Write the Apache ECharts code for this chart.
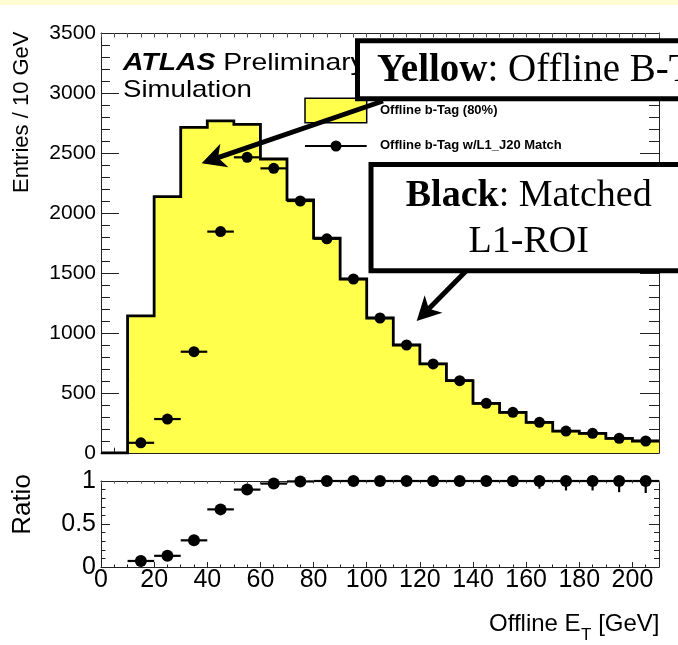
<!DOCTYPE html>
<html>
<head>
<meta charset="utf-8">
<script src="https://cdn.jsdelivr.net/npm/echarts@6/dist/echarts.min.js"></script>
<style>
  html, body { margin: 0; padding: 0; background: #ffffff; }
  #chart { width: 678px; height: 645px; }
</style>
</head>
<body>
<div id="chart"></div>
<script>
// Offline jet E_T in 10 GeV bins (lower bin edges)
const binLow = [0, 10, 20, 30, 40, 50, 60, 70, 80, 90, 100, 110, 120, 130, 140, 150, 160, 170, 180, 190, 200];
const binWidth = 10;
// Offline b-tagged jets (80% working point), entries per bin
const offlineBTag = [0, 1142, 2136, 2714, 2767, 2739, 2450, 2110, 1790, 1450, 1125, 900, 742, 603, 414, 339, 256, 183, 164, 122, 100];
// Offline b-tagged jets matched to an L1_J20 ROI
const matchedL1J20 = [null, 85, 283, 844, 1845, 2464, 2372, 2100, 1785, 1450, 1125, 900, 742, 603, 414, 339, 256, 183, 164, 122, 100];
// Matched / offline ratio and its uncertainty
const ratio = [null, 0.07, 0.13, 0.31, 0.67, 0.90, 0.97, 0.995, 1.0, 1.0, 1.0, 1.0, 1.0, 1.0, 1.0, 1.0, 1.0, 1.0, 1.0, 1.0, 1.0];
const ratioErr = [null, 0.02, 0.02, 0.02, 0.02, 0.02, 0.02, 0.03, 0.03, 0.04, 0.04, 0.05, 0.05, 0.06, 0.06, 0.07, 0.09, 0.11, 0.11, 0.13, 0.14];
// Axis tick labels
const xTicks = [0, 20, 40, 60, 80, 100, 120, 140, 160, 180, 200];
const yTicks = [0, 500, 1000, 1500, 2000, 2500, 3000, 3500];
const ratioTicks = [0, 0.5, 1];

const X_MAX = 210;
const RATIO_MAX = 1;
const SANS = '"Liberation Sans", Arial, Helvetica, sans-serif';
const SERIF = '"Liberation Serif", "Times New Roman", serif';
const AX = '#222222';
const YELLOW = '#FFFF4C';

const chart = echarts.init(document.getElementById('chart'), null, { renderer: 'canvas' });

// step-histogram outline: one point per lower edge plus the closing upper edge
const histData = binLow.map((x, i) => [x, offlineBTag[i]]);
histData.push([binLow[binLow.length - 1] + binWidth, offlineBTag[offlineBTag.length - 1]]);

// points with horizontal (bin width) and vertical error bars: [xc, y, xlo, xhi, elo, ehi]
const matchedPts = [];
const ratioPts = [];
binLow.forEach((x, i) => {
  if (matchedL1J20[i] != null) matchedPts.push([x + binWidth / 2, matchedL1J20[i], x, x + binWidth, 0, 0]);
  if (ratio[i] != null) ratioPts.push([x + binWidth / 2, ratio[i], x, x + binWidth, ratioErr[i], ratioErr[i]]);
});

function errorBars(lineWidth, yClamp) {
  return function (params, api) {
    const xc = api.value(0), y = api.value(1), xlo = api.value(2), xhi = api.value(3);
    const elo = api.value(4), ehi = api.value(5);
    const a = api.coord([xlo, y]), b = api.coord([xhi, y]);
    const children = [{ type: 'line', shape: { x1: a[0], y1: a[1], x2: b[0], y2: b[1] },
      style: { stroke: '#000', lineWidth: lineWidth } }];
    if (elo || ehi) {
      const top = api.coord([xc, Math.min(y + ehi, yClamp)]);
      const bot = api.coord([xc, y - elo]);
      children.push({ type: 'line', shape: { x1: top[0], y1: top[1], x2: bot[0], y2: bot[1] },
        style: { stroke: '#000', lineWidth: lineWidth } });
    }
    return { type: 'group', children: children };
  };
}

function valueAxis(extra) {
  return Object.assign({
    type: 'value',
    splitLine: { show: false },
    axisLine: { show: true, onZero: false, lineStyle: { color: AX, width: 1 } },
    axisTick: { show: true, inside: true, lineStyle: { color: AX, width: 1 } },
    axisLabel: { show: false },
    minorTick: { show: false },
    minorSplitLine: { show: false }
  }, extra);
}

// thick annotation arrow with a notched head
function arrow(tail, tip, headLen, halfW, lw, z) {
  const dx = tip[0] - tail[0], dy = tip[1] - tail[1];
  const L = Math.hypot(dx, dy), ux = dx / L, uy = dy / L, nx = -uy, ny = ux;
  const base = [tip[0] - ux * headLen, tip[1] - uy * headLen];
  const notch = [tip[0] - ux * headLen * 0.72, tip[1] - uy * headLen * 0.72];
  return [
    { type: 'line', z: z, silent: true,
      shape: { x1: tail[0], y1: tail[1], x2: notch[0], y2: notch[1] },
      style: { stroke: '#000', lineWidth: lw } },
    { type: 'polygon', z: z, silent: true,
      shape: { points: [tip, [base[0] + nx * halfW, base[1] + ny * halfW], notch, [base[0] - nx * halfW, base[1] - ny * halfW]] },
      style: { fill: '#000' } }
  ];
}

// x-axis title with subscript T
const mctx = document.createElement('canvas').getContext('2d');
function textWidth(str, size) { mctx.font = size + 'px ' + SANS; return mctx.measureText(str).width; }
const tA = 'Offline E', tB = 'T', tC = ' [GeV]';
const wA = textWidth(tA, 24), wB = textWidth(tB, 17), wC = textWidth(tC, 24);
const titleRight = 659;
const titleX = titleRight - (wA + wB + wC);

const option = {
  backgroundColor: '#ffffff',
  animation: false,
  grid: [
    { left: 101, top: 33, width: 558, height: 420 },
    { left: 101, top: 481, width: 558, height: 86 }
  ],
  xAxis: [
    valueAxis({ gridIndex: 0, position: 'bottom', min: 0, max: X_MAX, interval: 20,
      axisTick: { show: true, inside: true, length: 10.5, lineStyle: { color: AX } } }),
    valueAxis({ gridIndex: 0, position: 'bottom', min: 0, max: X_MAX, interval: 5,
      axisLine: { show: false }, axisTick: { show: true, inside: true, length: 5.3, lineStyle: { color: AX } } }),
    valueAxis({ gridIndex: 0, position: 'top', min: 0, max: X_MAX, interval: 5,
      axisTick: { show: true, inside: true, length: 4.5, lineStyle: { color: '#555' } } }),
    valueAxis({ gridIndex: 1, position: 'bottom', min: 0, max: X_MAX, interval: 20,
      axisTick: { show: true, inside: true, length: 5, lineStyle: { color: AX } },
      axisLabel: { show: true, margin: 1, color: '#000', fontFamily: SANS, fontSize: 25,
        formatter: v => (xTicks.indexOf(v) >= 0 ? String(v) : '') } }),
    valueAxis({ gridIndex: 1, position: 'bottom', min: 0, max: X_MAX, interval: 5,
      axisLine: { show: false }, axisTick: { show: true, inside: true, length: 2.5, lineStyle: { color: AX } } }),
    valueAxis({ gridIndex: 1, position: 'top', min: 0, max: X_MAX, interval: 5,
      axisTick: { show: true, inside: true, length: 2.5, lineStyle: { color: '#555' } } })
  ],
  yAxis: [
    valueAxis({ gridIndex: 0, position: 'left', min: yTicks[0], max: yTicks[yTicks.length - 1], interval: 500,
      axisTick: { show: true, inside: true, length: 18, lineStyle: { color: AX } },
      minorTick: { show: true, splitNumber: 5, length: 9, lineStyle: { color: AX } },
      axisLabel: { show: true, margin: 5, color: '#000', fontFamily: SANS, fontSize: 21,
        formatter: v => (yTicks.indexOf(v) >= 0 ? String(v) : '') } }),
    valueAxis({ gridIndex: 0, position: 'right', min: yTicks[0], max: yTicks[yTicks.length - 1], interval: 500,
      axisTick: { show: true, inside: true, length: 19, lineStyle: { color: AX } },
      minorTick: { show: true, splitNumber: 5, length: 10, lineStyle: { color: AX } } }),
    valueAxis({ gridIndex: 1, position: 'left', min: 0, max: RATIO_MAX, interval: 0.5,
      axisTick: { show: true, inside: true, length: 9, lineStyle: { color: AX } },
      minorTick: { show: true, splitNumber: 5, length: 4.5, lineStyle: { color: AX } },
      axisLabel: { show: true, margin: 5, color: '#000', fontFamily: SANS, fontSize: 25,
        formatter: v => (ratioTicks.indexOf(v) >= 0 ? String(v) : '') } }),
    valueAxis({ gridIndex: 1, position: 'right', min: 0, max: RATIO_MAX, interval: 0.5,
      axisTick: { show: true, inside: true, length: 10, lineStyle: { color: AX } },
      minorTick: { show: true, splitNumber: 5, length: 5, lineStyle: { color: AX } } })
  ],
  series: [
    {
      name: 'Offline b-Tag (80%)', type: 'line', xAxisIndex: 0, yAxisIndex: 0,
      data: histData, step: 'end', symbol: 'none', z: 2,
      lineStyle: { color: '#000', width: 2.8, join: 'miter' },
      areaStyle: { color: YELLOW, opacity: 1 }
    },
    {
      name: 'matched-err', type: 'custom', xAxisIndex: 0, yAxisIndex: 0, z: 3,
      data: matchedPts, encode: { x: 0, y: 1 },
      renderItem: errorBars(2.2, yTicks[yTicks.length - 1])
    },
    {
      name: 'Offline b-Tag w/L1_J20 Match', type: 'scatter', xAxisIndex: 0, yAxisIndex: 0, z: 4,
      data: matchedPts.map(p => [p[0], p[1]]), symbol: 'circle', symbolSize: 11,
      itemStyle: { color: '#000', opacity: 1 }
    },
    {
      name: 'ratio-err', type: 'custom', xAxisIndex: 3, yAxisIndex: 2, z: 3,
      data: ratioPts, encode: { x: 0, y: 1 },
      renderItem: errorBars(2.2, RATIO_MAX)
    },
    {
      name: 'Ratio', type: 'scatter', xAxisIndex: 3, yAxisIndex: 2, z: 4,
      data: ratioPts.map(p => [p[0], p[1]]), symbol: 'circle', symbolSize: 12,
      itemStyle: { color: '#000', opacity: 1 }
    }
  ],
  graphic: [
    // pale band across the top edge
    { type: 'rect', z: 0, silent: true, shape: { x: 0, y: 0, width: 678, height: 5 }, style: { fill: '#FFFBD2' } },
    // axis titles
    { type: 'text', z: 80, silent: true, x: 22, y: 31.5, rotation: Math.PI / 2,
      style: { text: 'Entries / 10 GeV', font: '22px ' + SANS, fill: '#000', align: 'right', verticalAlign: 'middle' } },
    { type: 'text', z: 80, silent: true, x: 22.5, y: 504.5, rotation: Math.PI / 2,
      style: { text: 'Ratio', font: '26px ' + SANS, fill: '#000', align: 'center', verticalAlign: 'middle' } },
    { type: 'text', z: 80, silent: true, x: titleX, y: 624.7,
      style: { text: tA, font: '24px ' + SANS, fill: '#000', align: 'left', verticalAlign: 'middle' } },
    { type: 'text', z: 80, silent: true, x: titleX + wA + 0.5, y: 635.6,
      style: { text: tB, font: '17px ' + SANS, fill: '#000', align: 'left', verticalAlign: 'middle' } },
    { type: 'text', z: 80, silent: true, x: titleX + wA + wB + 0.5, y: 624.7,
      style: { text: tC, font: '24px ' + SANS, fill: '#000', align: 'left', verticalAlign: 'middle' } },
    // experiment label
    { type: 'text', z: 80, silent: true, x: 123, y: 63, scaleX: 1.18,
      style: { text: '{b|ATLAS} Preliminary', font: '24px ' + SANS, fill: '#000', verticalAlign: 'middle',
        rich: { b: { fontFamily: SANS, fontSize: 24, fontWeight: 'bold', fontStyle: 'italic', fill: '#000' } } } },
    { type: 'text', z: 80, silent: true, x: 123, y: 90, scaleX: 1.15,
      style: { text: 'Simulation', font: '24px ' + SANS, fill: '#000', verticalAlign: 'middle' } },
    // legend
    { type: 'rect', z: 80, silent: true, shape: { x: 305, y: 98.3, width: 61.7, height: 24.4 },
      style: { fill: YELLOW, stroke: '#000', lineWidth: 1.5 } },
    { type: 'text', z: 80, silent: true, x: 380, y: 110.5,
      style: { text: 'Offline b-Tag (80%)', font: 'bold 13px ' + SANS, fill: '#000', verticalAlign: 'middle' } },
    { type: 'line', z: 80, silent: true, shape: { x1: 305, y1: 146, x2: 366.7, y2: 146 },
      style: { stroke: '#000', lineWidth: 2 } },
    { type: 'circle', z: 81, silent: true, shape: { cx: 336, cy: 146, r: 5.5 }, style: { fill: '#000' } },
    { type: 'text', z: 80, silent: true, x: 380, y: 145.7,
      style: { text: 'Offline b-Tag w/L1_J20 Match', font: 'bold 13px ' + SANS, fill: '#000', verticalAlign: 'middle' } }
  ]
    .concat(arrow([383, 101], [201.7, 163.3], 24, 12.5, 5, 90))
    .concat(arrow([468, 269], [416.7, 321], 24, 12.5, 5, 90))
    .concat([
      // annotation boxes
      { type: 'rect', z: 100, silent: true, shape: { x: 357.5, y: 40.8, width: 400, height: 58 },
        style: { fill: '#fff', stroke: '#000', lineWidth: 5 } },
      { type: 'text', z: 101, silent: true, x: 377, y: 70.7,
        style: { text: '{b|Yellow}{r|: Offline B-Tag}', fill: '#000', verticalAlign: 'middle',
          rich: { b: { fontFamily: SERIF, fontSize: 39, fontWeight: 'bold', fill: '#000' },
                  r: { fontFamily: SERIF, fontSize: 39, fill: '#000' } } } },
      { type: 'rect', z: 100, silent: true, shape: { x: 371, y: 164.5, width: 315, height: 106.3 },
        style: { fill: '#fff', stroke: '#000', lineWidth: 5 } },
      { type: 'text', z: 101, silent: true, x: 528.7, y: 195.7,
        style: { text: '{b|Black}{r|: Matched}', fill: '#000', align: 'center', verticalAlign: 'middle',
          rich: { b: { fontFamily: SERIF, fontSize: 38, fontWeight: 'bold', fill: '#000' },
                  r: { fontFamily: SERIF, fontSize: 38, fill: '#000' } } } },
      { type: 'text', z: 101, silent: true, x: 528.7, y: 241.7,
        style: { text: 'L1-ROI', font: '38px ' + SERIF, fill: '#000', align: 'center', verticalAlign: 'middle' } }
    ])
};

chart.setOption(option);
</script>
</body>
</html>
